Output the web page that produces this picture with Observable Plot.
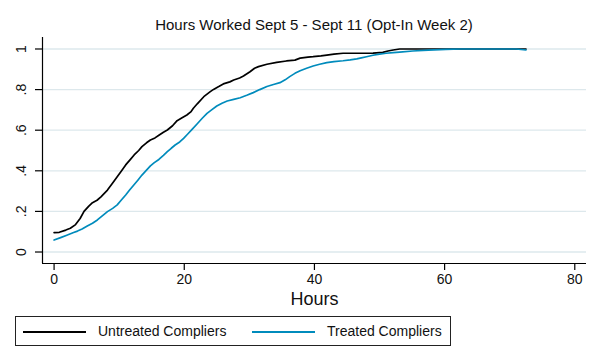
<!DOCTYPE html>
<html>
<head>
<meta charset="utf-8">
<script src="https://cdn.jsdelivr.net/npm/d3@7"></script>
<script src="https://cdn.jsdelivr.net/npm/@observablehq/plot@0.6"></script>
<style>
  html, body { margin: 0; padding: 0; background: #fff; }
  body { width: 596px; height: 354px; position: relative; overflow: hidden; font-family: "Liberation Sans", Arial, sans-serif; color: #111; }
  #title { position: absolute; left: 42px; width: 544px; top: 15px; line-height: 20px; text-align: center; font-size: 15px; }
  #chart { position: absolute; left: 0; top: 36px; }
  #legend { position: absolute; left: 15px; top: 316px; width: 434px; height: 28px; border: 1px solid #222; }
  .sw { position: absolute; top: 14px; height: 2px; width: 63px; }
  .lt { position: absolute; top: 5px; font-size: 14px; line-height: 18px; white-space: nowrap; }
</style>
</head>
<body>
<div id="title">Hours Worked Sept 5 - Sept 11 (Opt-In Week 2)</div>
<div id="chart"></div>
<div id="legend"></div>
<script>
const seriesNames = ["Untreated Compliers", "Treated Compliers"];
const seriesColors = ["#000000", "#008bbc"];

const untreatedHours = [0, 0.8, 1.8, 2.5, 3.3, 4.0, 4.6, 5.3, 5.9, 6.6, 7.2, 8.2, 9.0, 9.7, 10.4, 11.0, 11.7, 12.3, 13.0, 13.5, 14.2, 14.8, 15.5, 16.1, 16.8, 17.4, 18.2, 18.9, 19.6, 20.4, 21.0, 21.4, 22.0, 23.0, 24.0, 24.5, 25.3, 26.0, 27.0, 27.6, 28.5, 29.1, 30.1, 30.8, 31.4, 32.7, 34.2, 35.7, 37.0, 37.8, 39.0, 39.8, 41.0, 41.9, 43.0, 44.4, 46.0, 47.5, 49.0, 50.5, 51.3, 52.1, 53.1, 56, 60, 64, 68, 72.5];
const untreatedShare = [0.095, 0.097, 0.108, 0.117, 0.135, 0.165, 0.200, 0.225, 0.243, 0.255, 0.272, 0.305, 0.340, 0.371, 0.402, 0.429, 0.455, 0.478, 0.500, 0.519, 0.538, 0.552, 0.562, 0.575, 0.590, 0.601, 0.622, 0.647, 0.660, 0.675, 0.690, 0.708, 0.730, 0.765, 0.790, 0.801, 0.815, 0.828, 0.838, 0.847, 0.857, 0.867, 0.888, 0.905, 0.913, 0.925, 0.934, 0.941, 0.945, 0.955, 0.960, 0.962, 0.966, 0.970, 0.975, 0.979, 0.979, 0.979, 0.980, 0.983, 0.990, 0.995, 1.0, 1.0, 1.0, 1.0, 1.0, 1.0];

const treatedHours = [0, 1.0, 2.05, 3.0, 3.6, 4.3, 5.1, 5.9, 6.65, 7.4, 8.2, 9.0, 9.7, 10.3, 11.0, 11.6, 12.25, 12.9, 13.5, 14.2, 14.8, 15.4, 16.1, 16.8, 17.4, 18.0, 18.6, 19.3, 19.9, 20.5, 21.2, 22.0, 22.8, 23.5, 24.2, 25.0, 25.8, 26.6, 27.6, 28.6, 29.6, 30.6, 31.6, 32.7, 33.7, 34.7, 35.5, 36.2, 37.0, 37.8, 38.8, 39.8, 40.8, 41.9, 43.0, 44.4, 45.5, 46.5, 47.2, 48.0, 49.0, 50.0, 51.0, 52.1, 53.1, 55.1, 57.5, 60.2, 62.5, 65.3, 68, 71, 72.5];
const treatedShare = [0.059, 0.071, 0.084, 0.096, 0.103, 0.113, 0.128, 0.142, 0.158, 0.178, 0.199, 0.215, 0.232, 0.255, 0.281, 0.305, 0.330, 0.355, 0.379, 0.403, 0.424, 0.440, 0.456, 0.476, 0.494, 0.511, 0.527, 0.542, 0.560, 0.580, 0.604, 0.632, 0.660, 0.683, 0.700, 0.719, 0.733, 0.744, 0.752, 0.760, 0.772, 0.785, 0.800, 0.815, 0.825, 0.834, 0.848, 0.864, 0.880, 0.893, 0.905, 0.916, 0.925, 0.933, 0.938, 0.942, 0.946, 0.951, 0.956, 0.962, 0.969, 0.975, 0.979, 0.982, 0.985, 0.990, 0.994, 0.998, 1.0, 1.0, 1.0, 1.0, 0.995];

const xTicks = [0, 20, 40, 60, 80];
const yTicks = [0, 0.2, 0.4, 0.6, 0.8, 1];
const yTickLabels = ["0", ".2", ".4", ".6", ".8", "1"];
const xTitle = "Hours";

const rows = [
  ...untreatedHours.map((h, i) => ({series: seriesNames[0], hours: h, share: untreatedShare[i]})),
  ...treatedHours.map((h, i) => ({series: seriesNames[1], hours: h, share: treatedShare[i]}))
];

const xDomain = [-1.78, 81.8];
const yDomain = [-0.0566, 1.0566];

const chart = Plot.plot({
  width: 596,
  height: 274,
  marginLeft: 42,
  marginRight: 10,
  marginTop: 1,
  marginBottom: 47,
  style: {fontFamily: "Liberation Sans, Arial, sans-serif", fontSize: "14px", color: "#111", background: "#fff", overflow: "visible"},
  x: {domain: xDomain, label: null},
  y: {domain: yDomain, label: null},
  color: {domain: seriesNames, range: seriesColors},
  marks: [
    Plot.gridY(yTicks, {stroke: "#dde8ec", strokeOpacity: 1, strokeWidth: 1.3}),
    Plot.axisX({ticks: xTicks, tickSize: 7, tickPadding: 4, stroke: "#000", strokeWidth: 1.2, fill: "#111", fontSize: 14}),
    Plot.axisY({ticks: yTicks, tickSize: 7, tickFormat: () => "", stroke: "#000", strokeWidth: 1.2}),
    Plot.text(yTicks, {y: d => d, text: (d, i) => yTickLabels[i], frameAnchor: "left", dx: -21, rotate: -90, textAnchor: "middle", lineAnchor: "middle", fontSize: 14, fill: "#111"}),
    Plot.text([xTitle], {frameAnchor: "bottom", dy: 36, text: d => d, fontSize: 18, lineAnchor: "middle", fill: "#111"}),
    Plot.ruleX([xDomain[0]], {stroke: "#000", strokeWidth: 1.2}),
    Plot.ruleY([yDomain[0]], {stroke: "#000", strokeWidth: 1.2}),
    Plot.line(rows, {x: "hours", y: "share", z: "series", stroke: "series", strokeWidth: 1.7})
  ]
});
document.getElementById("chart").appendChild(chart);

const legend = document.getElementById("legend");
const legendPos = [{sw: 7, tx: 82}, {sw: 236, tx: 311}];
seriesNames.forEach((name, i) => {
  const sw = document.createElement("div");
  sw.className = "sw";
  sw.style.left = legendPos[i].sw + "px";
  sw.style.background = seriesColors[i];
  legend.appendChild(sw);
  const t = document.createElement("div");
  t.className = "lt";
  t.style.left = legendPos[i].tx + "px";
  t.textContent = name;
  legend.appendChild(t);
});
</script>
</body>
</html>
